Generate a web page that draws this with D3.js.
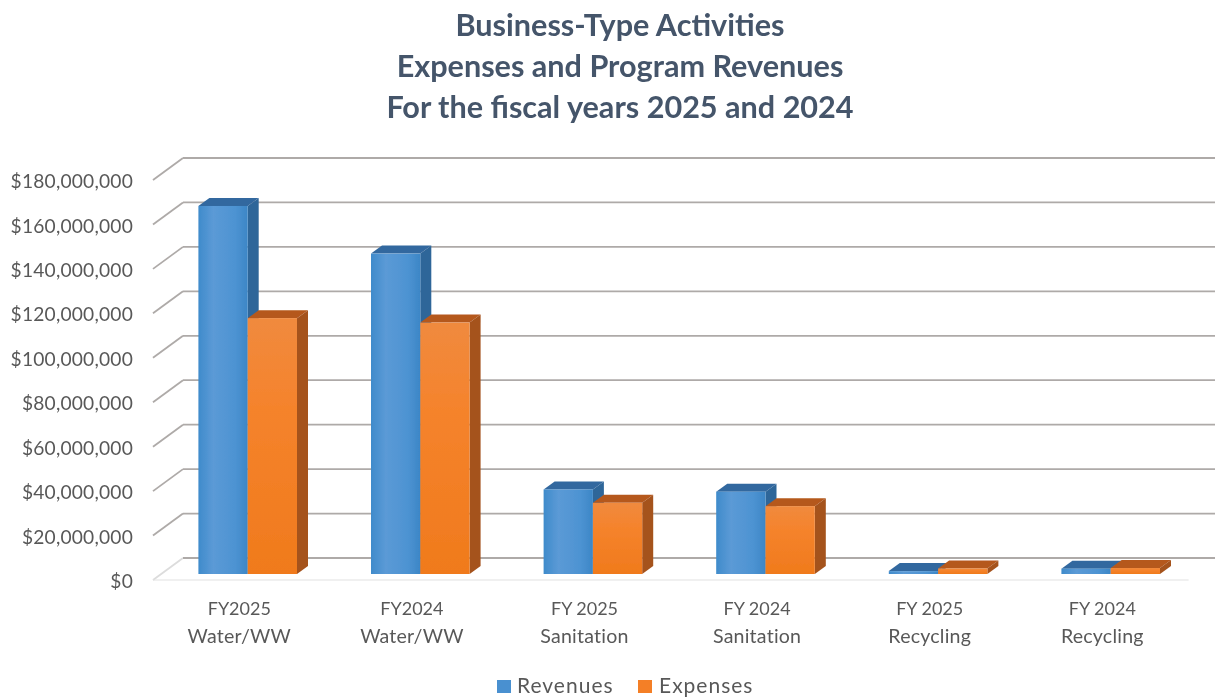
<!DOCTYPE html>
<html><head><meta charset="utf-8">
<script src="https://cdn.jsdelivr.net/npm/d3@7/dist/d3.min.js"></script>
<style>html,body{margin:0;padding:0;background:#fff}svg{display:block}text{font-family:Lato,"Open Sans",sans-serif}</style>
</head><body><svg id="c" width="1215" height="698"></svg>
<script>
const titleLines = ["Business-Type Activities","Expenses and Program Revenues","For the fiscal years 2025 and 2024"];
const categoryYears = ["FY2025","FY2024","FY 2025","FY 2024","FY 2025","FY 2024"];
const categoryTypes = ["Water/WW","Water/WW","Sanitation","Sanitation","Recycling","Recycling"];
const revenues = [165400000,144000000,38000000,37000000,1300000,2400000];
const expenses = [115000000,113000000,32000000,30500000,2500000,2700000];
const seriesNames = ["Revenues","Expenses"];
const yTicks = [0,20000000,40000000,60000000,80000000,100000000,120000000,140000000,160000000,180000000];

const svg = d3.select("#c");
const defs = svg.append("defs");
const blur = defs.append("filter").attr("id","soft");
blur.append("feGaussianBlur").attr("stdDeviation",0.6);
function grad(id,stops,x2,y2){
  const g=defs.append("linearGradient").attr("id",id).attr("x1",0).attr("y1",0).attr("x2",x2).attr("y2",y2);
  stops.forEach(s=>g.append("stop").attr("offset",s[0]).attr("stop-color",s[1]));
}
grad("gb",[[0,"#3f8bcb"],[0.3,"#5b9ad6"],[0.75,"#4d93d2"],[1,"#3c86c6"]],1,0);
grad("go",[[0,"#f08a3e"],[0.35,"#f5832c"],[1,"#f07a1c"]],0,1);
const g = svg.append("g").attr("filter","url(#soft)");

const wallFront = d3.scaleLinear().domain([0,180000000]).range([580,180]);
const barY = d3.scaleLinear().domain([0,180000000]).range([574,173.5]);
const x = d3.scaleBand().domain(d3.range(categoryYears.length)).range([153,1188.6]);
const wallDx = 30, wallDy = -22, barDx = 11, barDy = -8, barOffset = 8.4;
const barW = 49.3;

// walls
g.selectAll(".side").data(yTicks).join("path").attr("fill","none")
  .attr("stroke",d=>d===0?"#dcdcdc":"#aeaaa8").attr("stroke-width",1.8)
  .attr("d",d=>`M${x.range()[0]},${wallFront(d)}l${wallDx},${wallDy}`);
g.selectAll(".back").data(yTicks).join("line")
  .attr("x1",x.range()[0]+wallDx).attr("x2",1215)
  .attr("y1",d=>wallFront(d)+wallDy).attr("y2",d=>wallFront(d)+wallDy)
  .attr("stroke","#aeaaa8").attr("stroke-width",1.8);
g.append("line").attr("x1",x.range()[0]).attr("x2",x.range()[1]).attr("y1",wallFront(0)).attr("y2",wallFront(0))
  .attr("stroke","#e2e2e2").attr("stroke-width",1.2);

// bars
function bars(values,offset,front,top,side){
  const s=g.append("g");
  const left=(i)=>x(i)+x.bandwidth()/2-barW+barOffset+offset*barW;
  s.selectAll(".t").data(values).join("path").attr("fill",top)
    .attr("d",(d,i)=>`M${left(i)},${barY(d)}l${barDx},${barDy}h${barW}l${-barDx},${-barDy}z`);
  s.selectAll(".s").data(values).join("path").attr("fill",side)
    .attr("d",(d,i)=>`M${left(i)+barW},${barY(d)}l${barDx},${barDy}V${barY(0)+barDy}l${-barDx},${-barDy}z`);
  s.selectAll(".f").data(values).join("rect").attr("fill",front)
    .attr("x",(d,i)=>left(i)).attr("width",barW).attr("y",d=>barY(d)).attr("height",d=>barY(0)-barY(d));
}
bars(revenues,0,"url(#gb)","#32689f","#2f6699");
bars(expenses,1,"url(#go)","#b5591e","#a5521d");

// y axis
const yAxis = d3.axisLeft(wallFront).tickValues(yTicks).tickSize(0).tickPadding(0)
  .tickFormat(d=>"$"+d3.format(",")(d));
const ya = g.append("g").attr("transform","translate(133,1.5)").call(yAxis);
ya.select(".domain").remove();
ya.selectAll("text").attr("font-size",19.2).attr("fill","#595959").style("letter-spacing","0.2px").style("font-family","Lato");

// x axis
const xa = g.append("g").call(d3.axisBottom(x).tickSize(0).tickFormat(""));
xa.select(".domain").remove();
xa.selectAll("text").remove();
const labels = g.selectAll(".xl").data(d3.range(categoryYears.length)).join("text")
  .attr("text-anchor","middle").attr("fill","#595959")
  .attr("x",i=>x(i)+x.bandwidth()/2);
labels.append("tspan").attr("font-size",18).attr("x",i=>x(i)+x.bandwidth()/2).attr("y",615).text(i=>categoryYears[i]);
labels.append("tspan").attr("font-size",19.6).style("letter-spacing","0.2px").attr("x",i=>x(i)+x.bandwidth()/2).attr("y",643).text(i=>categoryTypes[i]);

// title
g.selectAll(".title").data(titleLines).join("text").attr("x",620).attr("y",(d,i)=>36+i*41)
  .attr("text-anchor","middle").attr("font-size",30.6).attr("font-weight",700).attr("fill","#44546a").text(d=>d);

// legend
const legendItems=[[497,517,"#4a90d0"],[638,659,"#f47f25"]];
const lg=g.selectAll(".lg").data(seriesNames).join("g");
lg.append("rect").attr("x",(d,i)=>legendItems[i][0]).attr("y",680).attr("width",14).attr("height",13).attr("fill",(d,i)=>legendItems[i][2]);
lg.append("text").attr("x",(d,i)=>legendItems[i][1]).attr("y",693).attr("font-size",21).attr("fill","#595959").style("letter-spacing","1px").text(d=>d);
</script></body></html>
